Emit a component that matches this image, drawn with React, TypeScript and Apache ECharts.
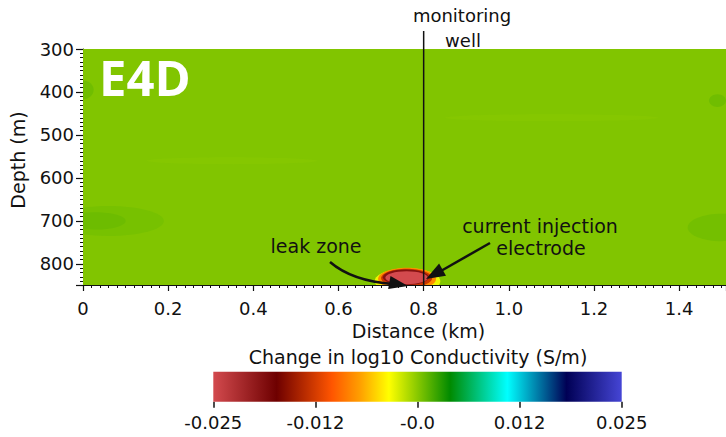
import React, { useEffect, useRef } from "react";
import * as echarts from "echarts";

// ---- data ----
const distanceRange = [0, 1.51]; // km
const depthRange = [300, 849]; // m
const distanceInterval = 0.2;
const depthInterval = 100;

// colour map (position 0..1 along colour bar, colour)
const cmapPositions = [0, 0.155, 0.29, 0.36, 0.43, 0.58, 0.72, 0.865, 1];
const cmapColors = ["#d34a4e", "#6e0000", "#ff5500", "#ffa000", "#ffff00", "#008a00", "#00ffff", "#000055", "#4545d5"];
const valueRange = [-0.025, 0.025];
const cbarInterval = 0.0125;
const cbarTickLabels = ["-0.025", "-0.012", "-0.0", "0.012", "0.025"];

// background field blocks: [x0 km, x1 km, depth0 m, depth1 m, value]
const fieldBlocks = [[0, 1.51, 300, 849, 0.0002]];
// subtle background patches: [cx km, cy m, rx km, ry m, value]
const fieldPatches = [
  [0.06, 700, 0.13, 35, 0.0005],
  [0.03, 700, 0.07, 20, 0.0008],
  [0.0, 395, 0.025, 22, 0.0007],
  [1.5, 715, 0.08, 32, 0.0006],
  [1.49, 420, 0.02, 15, 0.0007],
  [0.35, 560, 0.2, 8, 0.0001],
  [1.1, 460, 0.25, 8, 0.0001],
];
// leak anomaly rings: [cx km, cy m, rx km, ry m, value]
const anomalyRings = [
  [0.762, 840, 0.077, 30, -0.003],
  [0.761, 835, 0.068, 26, -0.008],
  [0.76, 833, 0.06, 22, -0.013],
  [0.758, 831, 0.054, 18, -0.019],
  [0.76, 832, 0.05, 15, -0.025],
];
const wellDistance = 0.8;

// ---- helpers ----
function hexToRgb(h: string) {
  const n = parseInt(h.slice(1), 16);
  return [(n >> 16) & 255, (n >> 8) & 255, n & 255];
}
function colorAt(v: number) {
  let t = (v - valueRange[0]) / (valueRange[1] - valueRange[0]);
  t = Math.max(0, Math.min(1, t));
  for (let i = 0; i < cmapPositions.length - 1; i++) {
    const a = cmapPositions[i], b = cmapPositions[i + 1];
    if (t >= a && t <= b) {
      const f = (t - a) / (b - a);
      const c0 = hexToRgb(cmapColors[i]), c1 = hexToRgb(cmapColors[i + 1]);
      const c = c0.map((x, k) => Math.round(x + (c1[k] - x) * f));
      return `rgb(${c[0]},${c[1]},${c[2]})`;
    }
  }
  return cmapColors[cmapColors.length - 1];
}

const FONT = "DejaVu Sans";
const TXT = "#111";

function renderRect(_p: any, api: any) {
  const a = api.coord([api.value(0), api.value(2)]);
  const b = api.coord([api.value(1), api.value(3)]);
  return {
    type: "rect",
    shape: { x: Math.min(a[0], b[0]), y: Math.min(a[1], b[1]), width: Math.abs(b[0] - a[0]), height: Math.abs(b[1] - a[1]) },
    style: { fill: colorAt(api.value(4)) },
  };
}
function renderEllipse(_p: any, api: any) {
  const c = api.coord([api.value(0), api.value(1)]);
  const s = api.size([api.value(2), api.value(3)]);
  return {
    type: "ellipse",
    shape: { cx: c[0], cy: c[1], rx: Math.abs(s[0]), ry: Math.abs(s[1]) },
    style: { fill: colorAt(api.value(4)) },
  };
}
function renderColorbar(_p: any, api: any) {
  const a = api.coord([valueRange[0], 0]);
  const b = api.coord([valueRange[1], 1]);
  return {
    type: "rect",
    shape: { x: a[0], y: b[1], width: b[0] - a[0], height: a[1] - b[1] },
    style: {
      fill: new echarts.graphic.LinearGradient(0, 0, 1, 0,
        cmapPositions.map((p, i) => ({ offset: p, color: cmapColors[i] }))),
    },
  };
}

function arrowHead(tip: number[], from: number[], len: number, half: number) {
  const dx = tip[0] - from[0], dy = tip[1] - from[1];
  const d = Math.hypot(dx, dy);
  const ux = dx / d, uy = dy / d;
  const bx = tip[0] - ux * len, by = tip[1] - uy * len;
  return [tip, [bx - uy * half, by + ux * half], [bx + uy * half, by - ux * half]];
}

export default function App() {
  const ref = useRef<HTMLDivElement>(null);
  useEffect(() => {
    if (!ref.current) return;
    const chart = echarts.init(ref.current, null, { renderer: "svg" });
    const tickStyle = { fontSize: 18, color: TXT, fontFamily: FONT };
    chart.setOption({
      animation: false,
      backgroundColor: "#fff",
      grid: [
        { left: 82.7, top: 49, right: 0, bottom: 152 },
        { left: 213.3, top: 371.7, width: 408.4, height: 30 },
      ],
      xAxis: [
        {
          type: "value", gridIndex: 0, min: distanceRange[0], max: distanceRange[1], interval: distanceInterval,
          position: "bottom",
          axisLine: { show: true, onZero: false, lineStyle: { color: TXT, width: 1 } },
          axisTick: { show: true, length: 6, lineStyle: { color: TXT, width: 1.2 } },
          minorTick: { show: true, splitNumber: 10, length: 3, lineStyle: { color: TXT, width: 1 } },
          splitLine: { show: false },
          axisLabel: { ...tickStyle, showMaxLabel: false, margin: 14, formatter: (v: number) => (v === 0 ? "0" : v.toFixed(1)) },
          name: "Distance (km)", nameLocation: "middle", nameGap: 34,
          nameTextStyle: { fontSize: 19, color: TXT, fontFamily: FONT, padding: [0, 0, 0, 28] },
        },
        {
          type: "value", gridIndex: 1, min: valueRange[0], max: valueRange[1], interval: cbarInterval,
          position: "bottom",
          axisLine: { show: false },
          axisTick: { show: true, length: 6, lineStyle: { color: TXT, width: 1.5 } },
          splitLine: { show: false },
          axisLabel: { ...tickStyle, margin: 12, formatter: (v: number) => cbarTickLabels[Math.round((v - valueRange[0]) / cbarInterval)] ?? "" },
        },
        {
          type: "value", gridIndex: 0, min: distanceRange[0], max: distanceRange[1], position: "top",
          axisLine: { show: true, onZero: false, lineStyle: { color: "#444", width: 1 } },
          axisTick: { show: false }, axisLabel: { show: false }, splitLine: { show: false },
        },
      ],
      yAxis: [
        {
          type: "value", gridIndex: 0, min: depthRange[0], max: depthRange[1], interval: depthInterval, inverse: true,
          axisLine: { show: true, onZero: false, lineStyle: { color: TXT, width: 1 } },
          axisTick: { show: true, length: 7, lineStyle: { color: TXT, width: 1.2 } },
          minorTick: { show: true, splitNumber: 10, length: 3, lineStyle: { color: TXT, width: 1 } },
          splitLine: { show: false },
          axisLabel: { ...tickStyle, showMaxLabel: false, margin: 9 },
          name: "Depth (m)", nameLocation: "middle", nameGap: 56,
          nameTextStyle: { fontSize: 19, color: TXT, fontFamily: FONT, padding: [0, 0, 0, 14] },
        },
        { type: "value", gridIndex: 1, min: 0, max: 1, show: false },
      ],
      series: [
        { type: "custom", xAxisIndex: 0, yAxisIndex: 0, clip: true, renderItem: renderRect, data: fieldBlocks, silent: true },
        { type: "custom", xAxisIndex: 0, yAxisIndex: 0, clip: true, renderItem: renderEllipse, data: fieldPatches, silent: true },
        { type: "custom", xAxisIndex: 0, yAxisIndex: 0, clip: true, renderItem: renderEllipse, data: anomalyRings, silent: true },
        { type: "custom", xAxisIndex: 1, yAxisIndex: 1, renderItem: renderColorbar, data: [[valueRange[0], valueRange[1]]], silent: true },
      ],
    });

    // annotations (positioned from the axes)
    const wellBottom = chart.convertToPixel({ xAxisIndex: 0, yAxisIndex: 0 }, [wellDistance, depthRange[1]]) as number[];
    const wx = wellBottom[0];
    const a1Tip = [408, 286];
    const a2Tip = [426, 279];
    const a2From = [490, 243];
    const head1 = arrowHead(a1Tip, [392, 283], 19, 6.5);
    const head2 = arrowHead(a2Tip, a2From, 19, 7);
    const Z = 100;
    const txt = (text: string, x: number, y: number, size = 18) => ({
      type: "text", x, y, z: Z, silent: true,
      style: { text, fill: TXT, font: `${size}px '${FONT}'`, align: "center", verticalAlign: "middle" },
    });
    chart.setOption({
      graphic: [
        { type: "line", z: Z, silent: true, shape: { x1: wx, y1: 31, x2: wx, y2: wellBottom[1] }, style: { stroke: TXT, lineWidth: 1.5 } },
        txt("monitoring", 462, 15),
        txt("well", 463, 40),
        txt("leak zone", 316, 246, 19),
        txt("current injection", 540, 226, 19),
        txt("electrode", 541, 248, 19),
        {
          type: "text", x: 99, y: 77, z: Z, silent: true,
          style: { text: "E4D", fill: "#fff", font: "bold 49px 'Open Sans'", align: "left", verticalAlign: "middle" },
        },
        txt("Change in log10 Conductivity (S/m)", 418, 357, 19),
        {
          type: "bezierCurve", z: Z, silent: true,
          shape: { x1: 330, y1: 262, cpx1: 352, cpy1: 281, x2: 393, y2: 284 },
          style: { stroke: TXT, lineWidth: 2.5, fill: null },
        },
        { type: "polygon", z: Z, silent: true, shape: { points: head1 }, style: { fill: TXT } },
        { type: "line", z: Z, silent: true, shape: { x1: a2From[0], y1: a2From[1], x2: 440, y2: 271.5 }, style: { stroke: TXT, lineWidth: 2.5 } },
        { type: "polygon", z: Z, silent: true, shape: { points: head2 }, style: { fill: TXT } },
      ],
    });
    return () => chart.dispose();
  }, []);
  return <div ref={ref} style={{ position: "fixed", left: 0, top: 0, width: 726, height: 437 }} />;
}
